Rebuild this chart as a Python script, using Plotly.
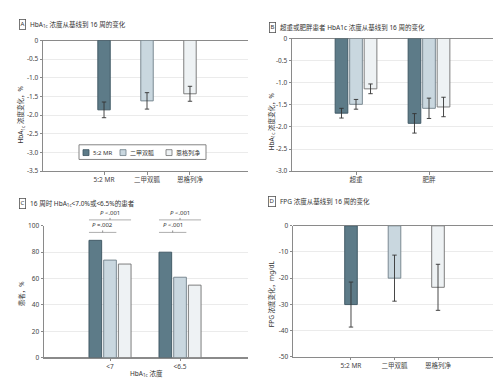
import plotly.graph_objects as go

W, H = 501, 379

# ---------------- data ----------------
drugs = ["5:2 MR", "二甲双胍", "恩格列净"]

a_vals = [-1.86, -1.62, -1.43]
a_err = [0.21, 0.22, 0.20]

b_groups = ["超重", "肥胖"]
b_mr = [-1.69, -1.92]
b_met = [-1.49, -1.58]
b_empa = [-1.14, -1.55]
b_mr_err = [0.11, 0.22]
b_met_err = [0.11, 0.23]
b_empa_err = [0.11, 0.22]

c_groups = ["<7", "<6.5"]
c_group_labels = ["&lt;7", "&lt;6.5"]
c_mr = [89, 80]
c_met = [74, 61]
c_empa = [71, 55]
c_p_pair12 = ["<i>P</i> =.002", "<i>P</i> &lt;.001"]
c_p_pair13 = ["<i>P</i> &lt;.001", "<i>P</i> &lt;.001"]

d_vals = [-30.1, -20.0, -23.5]
d_err = [8.6, 8.8, 8.8]

a_ticks = [0, -0.5, -1.0, -1.5, -2.0, -2.5, -3.0, -3.5]
a_ticktext = ["0", "-0.5", "-1.0", "-1.5", "-2.0", "-2.5", "-3.0", "-3.5"]
b_ticks = [0, -0.5, -1.0, -1.5, -2.0, -2.5, -3.0]
b_ticktext = ["0", "-0.5", "-1.0", "-1.5", "-2.0", "-2.5", "-3.0"]
c_ticks = [0, 20, 40, 60, 80, 100]
c_ticktext = ["0", "20", "40", "60", "80", "100"]
d_ticks = [0, -10, -20, -30, -40, -50]
d_ticktext = ["0", "-10", "-20", "-30", "-40", "-50"]

# ---------------- style ----------------
fills = ["#5d7b88", "#c9d7df", "#eef2f4"]
outlines = ["#3b5360", "#6f7f88", "#707070"]
FONT = "Noto Sans, Noto Sans CJK SC, sans-serif"
TXT = "#333333"
TICK = "#444444"
AX = "#8a8a8a"
GRID = "#ebebeb"


def px(x):
    return x / W


def py(y):
    return 1 - y / H


# panel plot areas in pixels (left, right, top, bottom)
areas = {
    "A": (35, 240, 28, 162),
    "B": (284, 488, 26, 162),
    "C": (36, 240, 218, 353),
    "D": (285, 488, 218, 352),
}

xranges = {
    "A": [-1.42, 3.35],
    "B": [-0.877, 1.918],
    "C": [-0.943, 1.971],
    "D": [-1.333, 3.333],
}
yranges = {"A": [-3.5, 0], "B": [-3.0, 0], "C": [0, 100], "D": [-50, 0]}

fig = go.Figure()
err_style = dict(type="data", color="#333333", thickness=0.9, width=2.2, visible=True)

# Panel A
fig.add_trace(go.Bar(
    x=drugs, y=a_vals, width=0.29, offset=-0.145,
    marker=dict(color=fills, line=dict(color=outlines, width=0.9)),
    error_y=dict(array=a_err, **err_style),
    xaxis="x", yaxis="y", showlegend=False))

# Panel B
slot_b, w_b = 0.199, 0.174
for i, (vals, errs) in enumerate([(b_mr, b_mr_err), (b_met, b_met_err), (b_empa, b_empa_err)]):
    fig.add_trace(go.Bar(
        x=b_groups, y=vals, width=w_b, offset=(i - 1) * slot_b - w_b / 2,
        marker=dict(color=fills[i], line=dict(color=outlines[i], width=0.9)),
        error_y=dict(array=errs, **err_style),
        xaxis="x2", yaxis="y2", name=drugs[i], showlegend=False))

# Panel C
slot_c, w_c = 0.21, 0.181
for i, vals in enumerate([c_mr, c_met, c_empa]):
    fig.add_trace(go.Bar(
        x=c_groups, y=vals, width=w_c, offset=(i - 1) * slot_c - w_c / 2,
        marker=dict(color=fills[i], line=dict(color=outlines[i], width=0.9)),
        xaxis="x3", yaxis="y3", name=drugs[i], showlegend=False))

# Panel D
fig.add_trace(go.Bar(
    x=drugs, y=d_vals, width=0.29, offset=-0.145,
    marker=dict(color=fills, line=dict(color=outlines, width=0.9)),
    error_y=dict(array=d_err, **err_style),
    xaxis="x4", yaxis="y4", showlegend=False))


def xaxis_cfg(key, ticktext=None, tickvals=None):
    l, r, t, b = areas[key]
    cfg = dict(domain=[px(l), px(r)], type="category", range=xranges[key],
               showline=True, linecolor=AX, linewidth=1, ticks="outside",
               ticklen=2.5, tickcolor=AX, showgrid=False, zeroline=False,
               tickfont=dict(size=6.5, color=TICK, family=FONT), fixedrange=True)
    if ticktext is not None:
        cfg.update(tickmode="array", tickvals=tickvals, ticktext=ticktext)
    return cfg


def yaxis_cfg(key, anchor, tv, tt):
    l, r, t, b = areas[key]
    return dict(domain=[py(b), py(t)], anchor=anchor, range=yranges[key],
                tickmode="array", tickvals=tv, ticktext=tt,
                showline=True, linecolor=AX, linewidth=1, ticks="outside",
                ticklen=2.5, tickcolor=AX, showgrid=True, gridcolor=GRID,
                gridwidth=1, zeroline=True, zerolinecolor=AX, zerolinewidth=1,
                tickfont=dict(size=6.5, color=TICK, family=FONT), fixedrange=True)


layout = dict(
    width=W, height=H, margin=dict(l=0, r=0, t=0, b=0),
    paper_bgcolor="white", plot_bgcolor="white",
    font=dict(family=FONT, color=TXT, size=7),
    showlegend=False,
    xaxis=dict(xaxis_cfg("A"), anchor="y"),
    yaxis=yaxis_cfg("A", "x", a_ticks, a_ticktext),
    xaxis2=dict(xaxis_cfg("B"), anchor="y2"),
    yaxis2=yaxis_cfg("B", "x2", b_ticks, b_ticktext),
    xaxis3=dict(xaxis_cfg("C", c_group_labels, c_groups), anchor="y3"),
    yaxis3=yaxis_cfg("C", "x3", c_ticks, c_ticktext),
    xaxis4=dict(xaxis_cfg("D"), anchor="y4"),
    yaxis4=yaxis_cfg("D", "x4", d_ticks, d_ticktext),
)
fig.update_layout(**layout)

annotations = []
shapes = []


def letter(lbl, x, y):
    annotations.append(dict(text=lbl, x=px(x), y=py(y), xref="paper", yref="paper",
                            showarrow=False, font=dict(size=6, color=TXT, family=FONT),
                            bordercolor="#555555", borderwidth=0.8, borderpad=0.6,
                            xanchor="center", yanchor="middle"))


def title(text, x, y):
    annotations.append(dict(text=text, x=px(x), y=py(y), xref="paper", yref="paper",
                            showarrow=False, font=dict(size=6.5, color=TXT, family=FONT),
                            xanchor="left", yanchor="middle"))


def ylabel(text, x, y):
    annotations.append(dict(text=text, x=px(x), y=py(y), xref="paper", yref="paper",
                            showarrow=False, textangle=-90,
                            font=dict(size=6.5, color=TXT, family=FONT),
                            xanchor="center", yanchor="middle"))


letter("A", 14, 12)
title("HbA<sub>1c</sub> 浓度从基线到 16 周的变化", 20, 12)
letter("B", 264, 15)
title("超重或肥胖患者 HbA1c 浓度从基线到 16 周的变化", 270, 15)
letter("C", 14, 195)
title("16 周时 HbA<sub>1c</sub>&lt;7.0%或&lt;6.5%的患者", 20, 195)
letter("D", 264, 193)
title("FPG 浓度从基线到 16 周的变化", 270, 193)

ylabel("HbA<sub>1c</sub> 浓度变化，%", 13, 104)
ylabel("HbA<sub>1c</sub> 浓度变化，%", 263, 111)
ylabel("患者，%", 13, 287)
ylabel("FPG 浓度变化，mg/dL", 263, 288)

annotations.append(dict(text="HbA<sub>1c</sub> 浓度", x=px(138), y=py(369), xref="paper",
                        yref="paper", showarrow=False,
                        font=dict(size=6.5, color=TXT, family=FONT),
                        xanchor="center", yanchor="middle"))

# Legend inside panel A (drawn with shapes + text)
leg_l, leg_r, leg_t, leg_b = 71, 198, 135, 150
shapes.append(dict(type="rect", xref="paper", yref="paper", x0=px(leg_l), x1=px(leg_r),
                   y0=py(leg_b), y1=py(leg_t), line=dict(color="#777777", width=0.9),
                   fillcolor="white", layer="above"))
leg_sq = [75, 112, 158]
for i, sx in enumerate(leg_sq):
    shapes.append(dict(type="rect", xref="paper", yref="paper", x0=px(sx), x1=px(sx + 6),
                       y0=py(146), y1=py(140), line=dict(color=outlines[i], width=0.8),
                       fillcolor=fills[i], layer="above"))
    annotations.append(dict(text=drugs[i], x=px(sx + 7.5), y=py(143), xref="paper",
                            yref="paper", showarrow=False, xanchor="left", yanchor="middle",
                            font=dict(size=6, color=TXT, family=FONT)))

# Significance brackets in panel C


def c_to_paper(xv, yv):
    l, r, t, b = areas["C"]
    x0, x1 = xranges["C"]
    y0, y1 = yranges["C"]
    xp = l + (xv - x0) / (x1 - x0) * (r - l)
    ypx = b - (yv - y0) / (y1 - y0) * (b - t)
    return px(xp), py(ypx)


for gi in range(len(c_groups)):
    left = gi - slot_c - w_c / 2
    right2 = gi + w_c / 2
    right3 = gi + slot_c + w_c / 2
    for (xa, xb, yv, txt) in [(left, right2, 95, c_p_pair12[gi]), (left, right3, 104.5, c_p_pair13[gi])]:
        xa_p, yv_p = c_to_paper(xa, yv)
        xb_p, _ = c_to_paper(xb, yv)
        shapes.append(dict(type="line", xref="paper", yref="paper", x0=xa_p, x1=xb_p,
                           y0=yv_p, y1=yv_p, line=dict(color="#9a9a9a", width=0.8)))
        xm = (xa_p + xb_p) / 2
        shapes.append(dict(type="line", xref="paper", yref="paper", x0=xm, x1=xm,
                           y0=yv_p, y1=yv_p + 2 / H, line=dict(color="#777777", width=0.8)))
        annotations.append(dict(text=txt, x=xm, y=yv_p + 7.5 / H, xref="paper", yref="paper",
                                showarrow=False, xanchor="center", yanchor="middle",
                                font=dict(size=6, color=TXT, family=FONT)))

fig.update_layout(annotations=annotations, shapes=shapes)
fig.write_html("out.html")
